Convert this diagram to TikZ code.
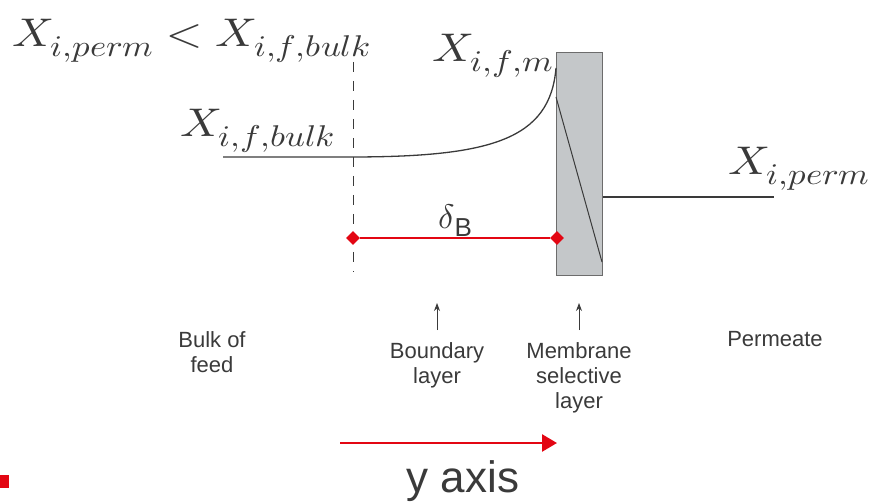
\documentclass[tikz,border=0pt]{standalone}
\usepackage{fontspec}
\usepackage{unicode-math}
\setmathfont{Latin Modern Math}
\setsansfont{Liberation Sans}
\DeclareMathSizes{40}{40}{30}{24}
\usetikzlibrary{shapes.geometric,arrows.meta,positioning}
\definecolor{memred}{HTML}{E30613}
\definecolor{memgray}{HTML}{C4C7C9}
\definecolor{inkgray}{HTML}{3A3A3A}
\newcommand{\widemath}[1]{\scalebox{1.16}[1]{$#1$}}

\begin{document}
\begin{tikzpicture}[x=1pt,y=-1pt,
    lbl/.style={font=\sffamily\fontsize{22}{25}\selectfont, text=inkgray, align=center, inner sep=0pt, anchor=north},
    conc/.style={font=\fontsize{40}{48}\selectfont, text=inkgray, inner sep=0pt, anchor=base west},
    tick/.style={diamond, fill=memred, minimum size=14pt, inner sep=0pt},
    pointer/.style={-{Stealth[length=8pt,width=6pt]}, draw=inkgray, line width=0.9pt}]
    \useasboundingbox (0,0) rectangle (874,502);

    % membrane
    \node[draw=gray!85!black, fill=memgray, line width=1pt, minimum width=46pt, minimum height=223pt,
          inner sep=0pt, anchor=north west] (mem) at (556,52) {};
    \draw[inkgray, line width=1pt] (556,97) -- (602,262);

    % concentration profile
    \draw[inkgray, line width=1.3pt] (223,157) -- (350,157) .. controls (490,157) and (550,140) .. (556,68);
    \coordinate (permend) at (774,197);
    \draw[inkgray, line width=1.3pt] (mem.east |- permend) -- (permend);
    \draw[inkgray, line width=1pt, dash pattern=on 10pt off 9pt] (353,62) -- (353,272);

    % boundary layer thickness
    \node[tick] (dl) at (353,238) {};
    \node[tick] (dr) at (557,238) {};
    \draw[memred, line width=1.6pt] (dl) -- (dr);
    \node[font=\fontsize{34}{38}\selectfont, text=inkgray, inner sep=0pt, anchor=base west] (delta) at (438,229)
        {$\delta$\raisebox{-8pt}{\sffamily\fontsize{26}{28}\selectfont B}};

    % concentrations
    \node[conc] (ineq) at (12,47) {\widemath{X_{i,perm} < X_{i,f,bulk}}};
    \node[conc] (xbulk) at (180,137) {\widemath{X_{i,f,bulk}}};
    \node[conc] (xfm) at (432,62) {\widemath{X_{i,f,m}}};
    \node[conc] (xperm) at (728,175) {\widemath{X_{i,perm}}};

    % regions
    \node[lbl] (bulk) at (212,331) {Bulk of\\feed};
    \node[lbl] (bl) at (437,342) {Boundary\\layer};
    \node[lbl] (msl) at (579,342) {Membrane\\selective\\layer};
    \node[lbl] (perm) at (775,331) {Permeate};
    \draw[pointer] ([yshift=12pt]bl.north) -- ++(0,-27);
    \draw[pointer] ([yshift=12pt]msl.north) -- ++(0,-27);

    % direction
    \coordinate (ystart) at (340,443);
    \coordinate (yend) at (557,443);
    \draw[memred, line width=2.6pt, -{Triangle[length=15pt,width=17pt]}] (ystart) -- (yend);
    \node[font=\sffamily\fontsize{44}{48}\selectfont, text=inkgray, inner sep=0pt, anchor=base] (yaxis) at (463,492) {y axis};
    \fill[memred] (0,475) rectangle (9,488);
\end{tikzpicture}
\end{document}
